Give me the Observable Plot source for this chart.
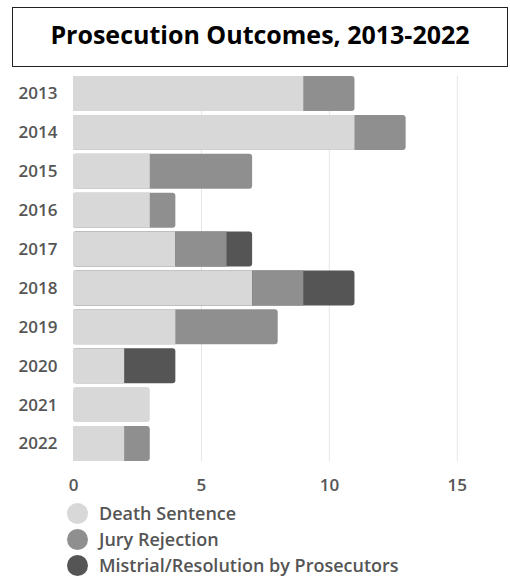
<!DOCTYPE html>
<html>
<head>
<meta charset="utf-8">
<script src="https://cdn.jsdelivr.net/npm/d3@7"></script>
<script src="https://cdn.jsdelivr.net/npm/@observablehq/plot@0.6"></script>
<style>
  html, body { margin: 0; padding: 0; background: #fff; }
  #wrap { position: relative; width: 510px; height: 577px; overflow: hidden; }
  #title {
    position: absolute; left: 12px; top: 7px; width: 494px; height: 58px;
    border: 1px solid #222; box-sizing: content-box;
    font-family: "Open Sans", sans-serif; font-weight: 700; font-size: 25px;
    color: #000; text-align: center; line-height: 52px;
  }
  #chart { position: absolute; left: 0; top: 70px; }
  #chart svg { display: block; }
  #legend { position: absolute; left: 67px; top: 500px; font-family: "Open Sans", sans-serif; font-size: 18px; font-weight: 600; color: #555; }
  .row { display: flex; align-items: center; height: 26px; }
  .sw { width: 21px; height: 21px; border-radius: 50%; margin-right: 11px; }
</style>
</head>
<body>
<div id="wrap">
  <div id="title">Prosecution Outcomes, 2013-2022</div>
  <div id="chart"></div>
  <div id="legend"></div>
</div>
<script>
const years = ["2013","2014","2015","2016","2017","2018","2019","2020","2021","2022"];
const deathSentence = [9, 11, 3, 3, 4, 7, 4, 2, 3, 2];
const juryRejection = [2, 2, 4, 1, 2, 2, 4, 0, 0, 1];
const mistrial      = [0, 0, 0, 0, 1, 2, 0, 2, 0, 0];
const categories = ["Death Sentence", "Jury Rejection", "Mistrial/Resolution by Prosecutors"];
const colors = ["#d8d8d8", "#8f8f8f", "#555555"];
const xTicks = [0, 5, 10, 15];

const series = [deathSentence, juryRejection, mistrial];
const segs = [];
const finals = [];
years.forEach((yr, i) => {
  let start = 0;
  let last = null;
  series.forEach((s, k) => {
    const v = s[i];
    if (v > 0) {
      const seg = {year: yr, cat: categories[k], x1: start, x2: start + v};
      segs.push(seg);
      last = seg;
      start += v;
    }
  });
  finals.push({...last, x1: 0});
});
const inner = segs.filter(s => !finals.some(f => f.year === s.year && f.x2 === s.x2));

const chart = Plot.plot({
  width: 510,
  height: 430,
  marginLeft: 73,
  marginRight: 2,
  marginTop: 2.1,
  marginBottom: 35.1,
  style: {fontFamily: "'Open Sans', sans-serif", fontSize: "17px", fontWeight: 600, color: "#555", background: "#fff"},
  x: {domain: [0, 17], axis: null, label: null},
  y: {domain: years, padding: 0.1, round: false, axis: null, label: null},
  color: {domain: categories, range: colors},
  marks: [
    Plot.ruleX([5, 10, 15], {stroke: "#e6e6e6", insetTop: 4, insetBottom: 3}),
    Plot.rectX(finals, {y: "year", x1: "x1", x2: "x2", fill: "cat", rx: 3}),
    Plot.rectX(inner, {y: "year", x1: "x1", x2: "x2", fill: "cat"}),
    Plot.axisY({tickSize: 0, tickPadding: 16, fill: "#555", fontSize: 17, fontWeight: 600, label: null}),
    Plot.axisX(xTicks, {tickSize: 0, tickPadding: 13.6, fill: "#555", fontSize: 17, fontWeight: 600, label: null})
  ]
});
document.getElementById("chart").appendChild(chart);

const legend = document.getElementById("legend");
categories.forEach((c, k) => {
  const row = document.createElement("div");
  row.className = "row";
  const sw = document.createElement("div");
  sw.className = "sw";
  sw.style.background = colors[k];
  const t = document.createElement("span");
  t.textContent = c;
  row.appendChild(sw); row.appendChild(t);
  legend.appendChild(row);
});
</script>
</body>
</html>
